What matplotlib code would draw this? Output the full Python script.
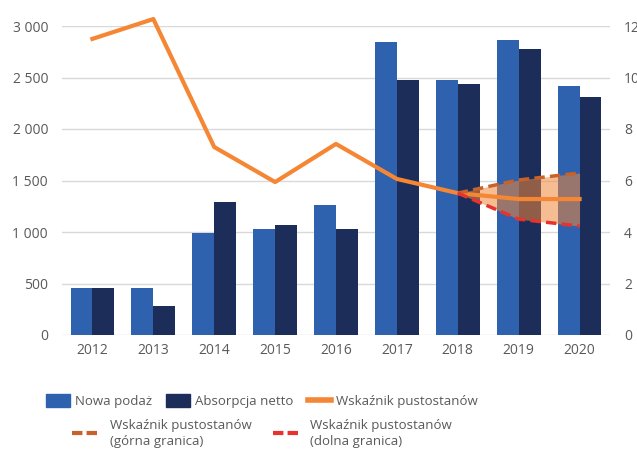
import numpy as np
import matplotlib.pyplot as plt
from matplotlib.lines import Line2D
from matplotlib.patches import Patch

years = ['2012', '2013', '2014', '2015', '2016', '2017', '2018', '2019', '2020']
new_supply = [455, 455, 990, 1030, 1265, 2840, 2480, 2860, 2420]
net_absorption = [455, 280, 1290, 1070, 1030, 2480, 2440, 2780, 2310]
vacancy = [11.5, 12.27, 7.3, 5.94, 7.42, 6.06, 5.51, 5.28, 5.28]
forecast_years = ['2018', '2019', '2020']
vacancy_upper = [5.51, 6.02, 6.29]
vacancy_lower = [5.51, 4.5, 4.23]

left_ticks = [0, 500, 1000, 1500, 2000, 2500, 3000]
right_ticks = [0, 2, 4, 6, 8, 10, 12]

c_new = '#2E62AE'
c_abs = '#1C2D5A'
c_vac = '#F58634'
c_up = '#C8622A'
c_low = '#E8322E'
c_txt = '#595959'

plt.rcParams['font.family'] = ['Open Sans', 'DejaVu Sans']

fig = plt.figure(figsize=(6.37, 4.53), dpi=100)
ax = fig.add_axes([62 / 637, 1 - 335 / 453, (610 - 62) / 637, (335 - 26) / 453])
ax2 = ax.twinx()

x = np.arange(len(years))
w = 0.36
ax.bar(x - w / 2, new_supply, w, color=c_new, zorder=2)
ax.bar(x + w / 2, net_absorption, w, color=c_abs, zorder=2)

ax.set_xlim(-0.5, len(years) - 0.5)
ax.set_ylim(0, 3000)
ax.set_yticks(left_ticks)
ax.set_yticklabels([f'{v:,}'.replace(',', ' ') for v in left_ticks])
ax.set_xticks(x)
ax.set_xticklabels(years)
ax.grid(axis='y', color='#D9D9D9', linewidth=1, zorder=0)
ax.set_axisbelow(True)

# forecast band drawn over the bars
fx = np.array([years.index(y) for y in forecast_years])
ax2.fill_between(fx, vacancy_lower, vacancy_upper, color='#F0883A', alpha=0.55,
                 linewidth=0, zorder=3)
ax2.plot(x, vacancy, color=c_vac, linewidth=3, zorder=4, clip_on=False)
ax2.plot(fx, vacancy_upper, color=c_up, linewidth=2.5, linestyle=(0, (3, 1.5)), zorder=5)
ax2.plot(fx, vacancy_lower, color=c_low, linewidth=2.5, linestyle=(0, (3, 1.5)), zorder=5)
ax2.set_ylim(0, 12)
ax2.set_yticks(right_ticks)

for a in (ax, ax2):
    for s in a.spines.values():
        s.set_visible(False)
    a.tick_params(length=0, colors=c_txt, labelsize=10)
ax.tick_params(axis='y', pad=10)
ax2.tick_params(axis='y', pad=10)
ax.tick_params(axis='x', pad=6)

h1 = [Patch(color=c_new, label='Nowa podaż'),
      Patch(color=c_abs, label='Absorpcja netto'),
      Line2D([], [], color=c_vac, linewidth=4, label='Wskaźnik pustostanów')]
leg1 = fig.legend(handles=h1, loc='center', bbox_to_anchor=(262 / 637, 1 - 401 / 453), ncol=3,
                  frameon=False, fontsize=9.5, labelcolor=c_txt, handlelength=1.8,
                  handleheight=1.1, columnspacing=1.1, handletextpad=0.35)
h2 = [Line2D([], [], color=c_up, linewidth=3, linestyle=(0, (2.5, 1)),
             label='Wskaźnik pustostanów\n(górna granica)'),
      Line2D([], [], color=c_low, linewidth=3, linestyle=(0, (2.5, 1)),
             label='Wskaźnik pustostanów\n(dolna granica)')]
leg2 = fig.legend(handles=h2, loc='center', bbox_to_anchor=(262 / 637, 1 - 433 / 453), ncol=2,
                  frameon=False, fontsize=9.5, labelcolor=c_txt, handlelength=2.2,
                  columnspacing=1.6, handletextpad=0.65)
for t in leg2.get_texts():
    t.set_linespacing(1.3)

fig.savefig('out.png', dpi=100)
